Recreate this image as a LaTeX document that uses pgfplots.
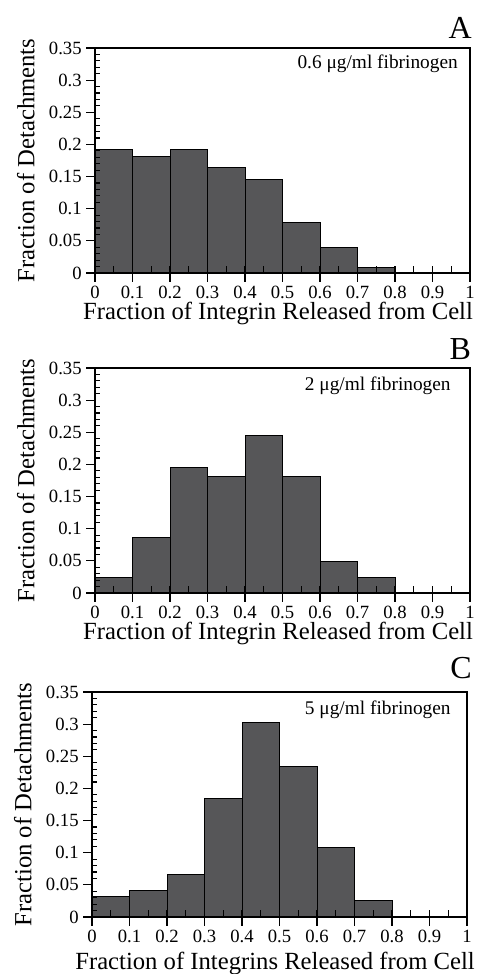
\documentclass[border=0pt]{standalone}
\usepackage{fontspec}
\setmainfont{Liberation Serif}
\usepackage{pgfplots}
\pgfplotsset{compat=1.18}

\definecolor{barfill}{RGB}{86,86,88}

% common look of the three panels (reference pixel = 0.75pt)
\pgfplotsset{
  panel/.style={
    scale only axis,
    width=281.25pt, height=168.75pt,
    anchor=south west,
    xmin=0, xmax=1, ymin=0, ymax=0.35,
    xtick={0,0.1,0.2,0.3,0.4,0.5,0.6,0.7,0.8,0.9,1},
    ytick={0,0.05,0.1,0.15,0.2,0.25,0.3,0.35},
    tick pos=left,
    tick align=outside,
    major tick length=6.5pt,
    tick style={black, line width=0.9pt},
    extra x ticks={0.05,0.1,0.15,0.2,0.25,0.3,0.35,0.4,0.45,0.5,0.55,0.6,0.65,0.7,0.75,0.8,0.85,0.9,0.95},
    extra x tick style={tick align=inside, major tick length=5pt, xticklabel=\empty},
    extra y ticks={0.01,0.02,0.03,0.04,0.06,0.07,0.08,0.09,0.11,0.12,0.13,0.14,0.16,0.17,0.18,0.19,0.21,0.22,0.23,0.24,0.26,0.27,0.28,0.29,0.31,0.32,0.33,0.34},
    extra y tick style={tick align=inside, major tick length=4pt, yticklabel=\empty},
    axis line style={line width=1.5pt},
    axis on top,
    clip=false,
    /pgf/number format/fixed,
    /pgf/number format/precision=2,
    /pgf/number format/assume math mode=true,
    ticklabel style={font=\fontsize{14}{16}\selectfont},
    label style={font=\fontsize{18.5}{21}\selectfont},
    ylabel={Fraction of Detachments},
    ylabel style={at={(axis description cs:0,0.5)}, anchor=south, inner sep=0pt, yshift=45pt},
    xlabel style={at={(axis description cs:0.488,0)}, anchor=base, inner sep=0pt, yshift=-34.5pt},
  },
  bars/.style={ybar interval, fill=barfill, draw=black, line width=0.7pt},
}
\tikzset{
  inset/.style={anchor=base east, inner sep=0pt, font=\fontsize{14.5}{16}\selectfont},
  letter/.style={anchor=base east, inner sep=0pt, font=\fontsize{24}{26}\selectfont},
}

\begin{document}
\begin{tikzpicture}
\useasboundingbox (0pt,0pt) rectangle (363pt,-730.5pt);

% A
\begin{axis}[panel, at={(71.25pt,-204.75pt)}, xlabel={Fraction of Integrin Released from Cell}]
\addplot[bars] coordinates {(0,0.192) (0.1,0.181) (0.2,0.192) (0.3,0.164) (0.4,0.145) (0.5,0.078) (0.6,0.039) (0.7,0.009) (0.8,0) (0.9,0) (1,0)};
\node[inset] at (rel axis cs:0.968,0.911) {0.6 μg/ml fibrinogen};
\node[letter] at (rel axis cs:1.005,1.044) {A};
\end{axis}

% B
\begin{axis}[panel, at={(71.25pt,-444.75pt)}, xlabel={Fraction of Integrin Released from Cell}]
\addplot[bars] coordinates {(0,0.024) (0.1,0.086) (0.2,0.196) (0.3,0.181) (0.4,0.245) (0.5,0.181) (0.6,0.049) (0.7,0.024) (0.8,0) (0.9,0) (1,0)};
\node[inset] at (rel axis cs:0.949,0.898) {2 μg/ml fibrinogen};
\node[letter] at (rel axis cs:1.003,1.04) {B};
\end{axis}

% C
\begin{axis}[panel, at={(69pt,-687.75pt)}, xlabel={Fraction of Integrins Released from Cell},
  xlabel style={yshift=-5pt}]
\addplot[bars] coordinates {(0,0.032) (0.1,0.041) (0.2,0.066) (0.3,0.185) (0.4,0.302) (0.5,0.234) (0.6,0.108) (0.7,0.025) (0.8,0) (0.9,0) (1,0)};
\node[inset] at (rel axis cs:0.957,0.902) {5 μg/ml fibrinogen};
\node[letter] at (rel axis cs:1.013,1.058) {C};
\end{axis}
\end{tikzpicture}
\end{document}
